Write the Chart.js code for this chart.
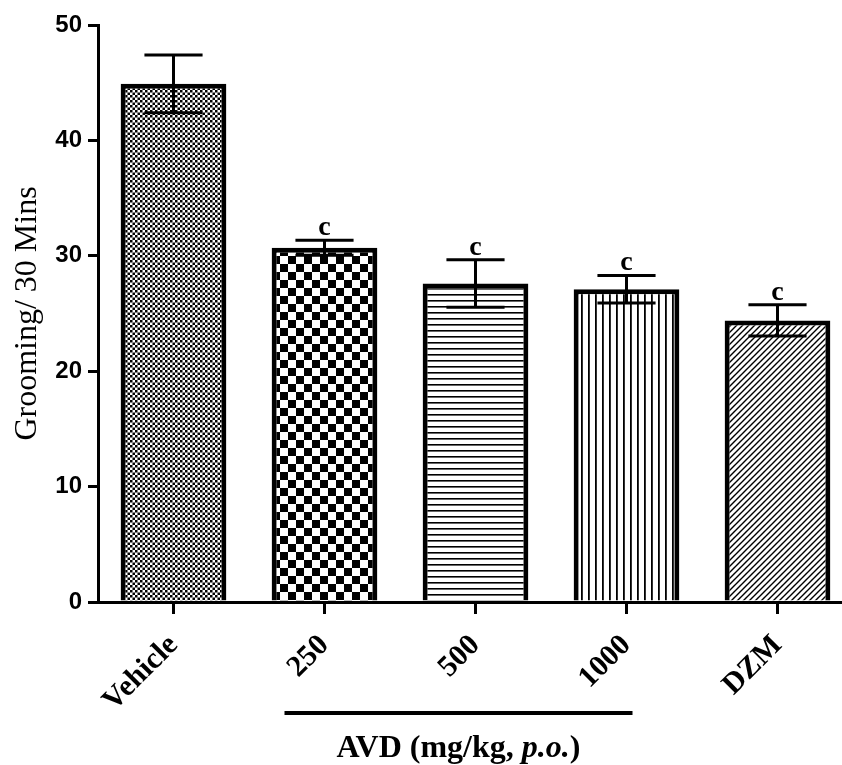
<!DOCTYPE html>
<html>
<head>
<meta charset="utf-8">
<script src="https://cdn.jsdelivr.net/npm/chart.js@4"></script>
<style>
  html, body { margin: 0; padding: 0; background: #fff; overflow: hidden; }
  #wrap { width: 860px; height: 765px; }
</style>
</head>
<body>
<div id="wrap"><canvas id="groomChart" width="860" height="765"></canvas></div>
<script>
// data
const groups = ['Vehicle', '250', '500', '1000', 'DZM'];
const means = [44.9, 30.7, 27.6, 27.1, 24.4];
const sems = [2.5, 0.65, 2.05, 1.2, 1.35];
const sigLetters = ['', 'c', 'c', 'c', 'c'];
const yTicks = [0, 10, 20, 30, 40, 50];

// small canvas tiles for the bar fills
function makePattern(w, h, draw) {
    const c = document.createElement('canvas');
    c.width = w;
    c.height = h;
    const g = c.getContext('2d');
    g.fillStyle = '#fff';
    g.fillRect(0, 0, w, h);
    g.fillStyle = '#000';
    g.strokeStyle = '#000';
    draw(g, w, h);
    return g.createPattern(c, 'repeat');
}

const fills = [
    // fine checker
    makePattern(5, 5, (g) => {
        g.fillRect(0, 0, 2.5, 2.5);
        g.fillRect(2.5, 2.5, 2.5, 2.5);
    }),
    // coarse checker
    makePattern(16, 16, (g) => {
        g.fillRect(0, 0, 8, 8);
        g.fillRect(8, 8, 8, 8);
    }),
    // horizontal lines
    makePattern(6, 6, (g) => {
        g.fillRect(0, 0, 6, 1.6);
    }),
    // vertical lines
    makePattern(7, 7, (g) => {
        g.fillRect(0, 0, 1.8, 7);
    }),
    // diagonal hatch
    makePattern(6, 6, (g) => {
        g.lineWidth = 1.4;
        g.beginPath();
        g.moveTo(0, 6); g.lineTo(6, 0);
        g.moveTo(-1, 1); g.lineTo(1, -1);
        g.moveTo(5, 7); g.lineTo(7, 5);
        g.stroke();
    })
];

// error bars, significance letters and the AVD bracket
const extrasPlugin = {
    id: 'extras',
    afterDatasetsDraw(chart) {
        const ctx = chart.ctx;
        const y = chart.scales.y;
        const x = chart.scales.x;
        const meta = chart.getDatasetMeta(0);
        ctx.save();
        ctx.strokeStyle = '#000';
        ctx.fillStyle = '#000';
        ctx.lineWidth = 3;
        meta.data.forEach((bar, i) => {
            const top = y.getPixelForValue(means[i] + sems[i]);
            const bot = y.getPixelForValue(means[i] - sems[i]);
            const half = bar.width * 0.275;
            ctx.beginPath();
            ctx.moveTo(bar.x, top);
            ctx.lineTo(bar.x, bot);
            ctx.moveTo(bar.x - half, top);
            ctx.lineTo(bar.x + half, top);
            ctx.moveTo(bar.x - half, bot);
            ctx.lineTo(bar.x + half, bot);
            ctx.stroke();
            if (sigLetters[i]) {
                ctx.font = 'bold 28px "Liberation Serif", serif';
                ctx.textAlign = 'center';
                ctx.textBaseline = 'alphabetic';
                ctx.fillText(sigLetters[i], bar.x, top - 5);
            }
        });

        // bracket under the AVD doses
        const x1 = x.getPixelForValue(1) - 40;
        const x2 = x.getPixelForValue(3) + 6;
        const lineY = 713;
        ctx.lineWidth = 4;
        ctx.beginPath();
        ctx.moveTo(x1, lineY);
        ctx.lineTo(x2, lineY);
        ctx.stroke();

        const parts = [
            ['AVD (mg/kg, ', 'bold 32px "Liberation Serif", serif'],
            ['p.o.', 'italic bold 32px "Liberation Serif", serif'],
            [')', 'bold 32px "Liberation Serif", serif']
        ];
        let total = 0;
        parts.forEach(p => { ctx.font = p[1]; total += ctx.measureText(p[0]).width; });
        let tx = (x1 + x2) / 2 - total / 2;
        ctx.textAlign = 'left';
        ctx.textBaseline = 'alphabetic';
        parts.forEach(p => {
            ctx.font = p[1];
            ctx.fillText(p[0], tx, 757);
            tx += ctx.measureText(p[0]).width;
        });
        ctx.restore();
    }
};

function initChart() {
    const ctx = document.getElementById('groomChart').getContext('2d');
    new Chart(ctx, {
        type: 'bar',
        data: {
            labels: groups,
            datasets: [{
                data: means,
                backgroundColor: fills,
                borderColor: '#000',
                borderWidth: 5,
                barPercentage: 0.7,
                categoryPercentage: 1.0
            }]
        },
        options: {
            responsive: false,
            animation: false,
            layout: { padding: { top: 25, right: 7, left: 0, bottom: 0 } },
            plugins: {
                legend: { display: false },
                tooltip: { enabled: false }
            },
            scales: {
                x: {
                    grid: {
                        offset: false,
                        drawOnChartArea: false,
                        drawTicks: true,
                        tickLength: 12,
                        lineWidth: 3,
                        color: '#000'
                    },
                    border: { display: true, color: '#000', width: 3 },
                    ticks: {
                        color: '#000',
                        maxRotation: 45,
                        minRotation: 45,
                        padding: 14,
                        font: { family: '"Liberation Serif", serif', size: 30, weight: 'bold' }
                    },
                    afterFit(scale) { scale.height = 163; }
                },
                y: {
                    min: 0,
                    max: 50,
                    afterBuildTicks(scale) { scale.ticks = yTicks.map(v => ({ value: v })); },
                    grid: {
                        drawOnChartArea: false,
                        drawTicks: true,
                        tickLength: 10,
                        lineWidth: 3,
                        color: '#000'
                    },
                    border: { display: true, color: '#000', width: 3 },
                    ticks: {
                        color: '#000',
                        padding: 6,
                        font: { family: '"Liberation Sans", Arial, sans-serif', size: 24, weight: 'bold' }
                    },
                    title: {
                        display: true,
                        text: 'Grooming/ 30 Mins',
                        color: '#000',
                        padding: { top: 8, bottom: 0 },
                        font: { family: '"Liberation Serif", serif', size: 32, weight: 'normal' }
                    },
                    afterFit(scale) { scale.width = 98; }
                }
            }
        },
        plugins: [extrasPlugin]
    });
}

document.addEventListener('DOMContentLoaded', initChart);
</script>
</body>
</html>
